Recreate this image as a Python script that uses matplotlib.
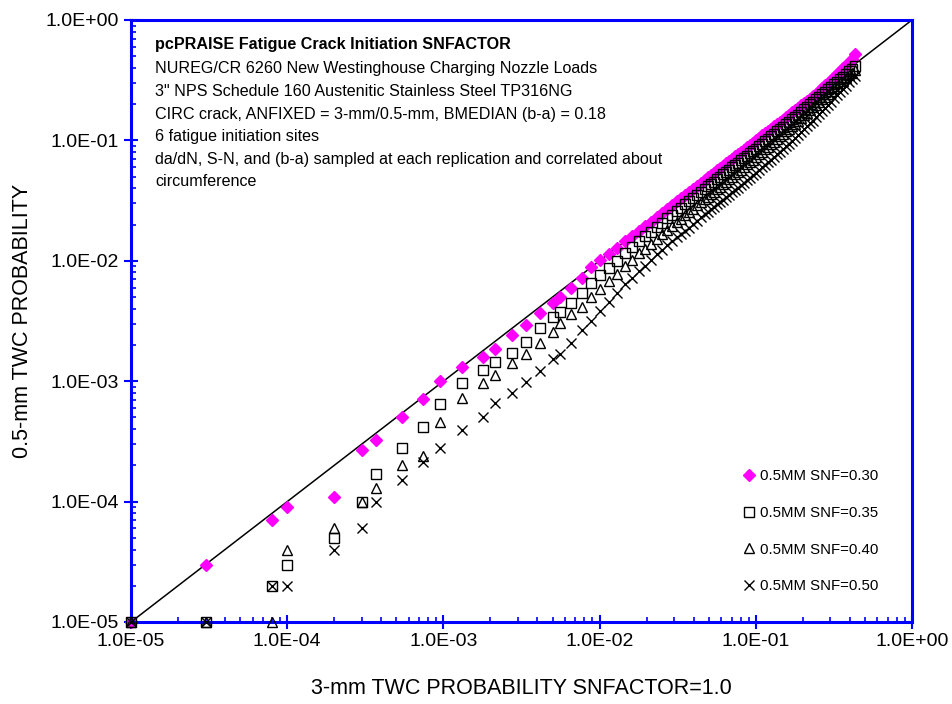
import matplotlib.pyplot as plt
from matplotlib.ticker import LogLocator, FuncFormatter, NullFormatter

plt.rcParams['font.family'] = ['Liberation Sans', 'DejaVu Sans']

# 3-mm TWC probability, SNFACTOR = 1.0 (common x for all runs)
prob_3mm = [1e-5, 3e-5, 8e-5, 1e-4, 2e-4, 3e-4, 3.7e-4, 5.4e-4, 7.4e-4, 9.5e-4,
            1.32e-3, 1.8e-3, 2.14e-3, 2.73e-3, 3.37e-3, 4.15e-3, 5.05e-3, 5.57e-3, 6.6e-3, 7.67e-3,
            8.87e-3, 0.0101, 0.0115, 0.0129, 0.0146, 0.0161, 0.0179, 0.0195, 0.0213, 0.0233,
            0.0251, 0.0270, 0.0291, 0.0313, 0.0332, 0.0352, 0.0373, 0.0396, 0.0421, 0.0446,
            0.0473, 0.0494, 0.0516, 0.0540, 0.0565, 0.0590, 0.0617, 0.0644, 0.0673, 0.0705,
            0.0736, 0.0769, 0.0804, 0.0839, 0.0879, 0.0918, 0.0959, 0.100, 0.105, 0.110,
            0.115, 0.120, 0.125, 0.131, 0.137, 0.143, 0.149, 0.156, 0.163, 0.171,
            0.178, 0.186, 0.195, 0.204, 0.213, 0.222, 0.232, 0.243, 0.254, 0.265,
            0.277, 0.290, 0.303, 0.317, 0.331, 0.346, 0.361, 0.378, 0.395, 0.413,
            0.432]

# 0.5-mm TWC probability for each SNFACTOR
snf_030 = [1e-5, 3e-5, 7e-5, 9e-5, 1.1e-4, 2.7e-4, 3.25e-4, 5.0e-4, 7.1e-4, 1.0e-3,
           1.30e-3, 1.6e-3, 1.86e-3, 2.42e-3, 2.91e-3, 3.66e-3, 4.5e-3, 5.0e-3, 6.0e-3, 7.2e-3,
           8.9e-3, 0.0101, 0.0114, 0.0128, 0.0145, 0.0160, 0.0178, 0.0194, 0.0212, 0.0232,
           0.0250, 0.0269, 0.0290, 0.0312, 0.0331, 0.0351, 0.0372, 0.0395, 0.0420, 0.0445,
           0.0472, 0.0493, 0.0515, 0.0539, 0.0564, 0.0589, 0.0616, 0.0643, 0.0672, 0.0704,
           0.0735, 0.0768, 0.0803, 0.0838, 0.0878, 0.0917, 0.0958, 0.0999, 0.105, 0.110,
           0.115, 0.120, 0.125, 0.131, 0.137, 0.143, 0.149, 0.156, 0.163, 0.171,
           0.178, 0.186, 0.195, 0.204, 0.213, 0.222, 0.232, 0.243, 0.257, 0.271,
           0.286, 0.302, 0.317, 0.336, 0.355, 0.375, 0.396, 0.419, 0.443, 0.474,
           0.521]
snf_035 = [1e-5, 1e-5, 2e-5, 3e-5, 5e-5, 1e-4, 1.7e-4, 2.8e-4, 4.2e-4, 6.5e-4,
           9.7e-4, 1.24e-3, 1.45e-3, 1.73e-3, 2.13e-3, 2.78e-3, 3.43e-3, 3.78e-3, 4.49e-3, 5.43e-3,
           6.5e-3, 7.58e-3, 8.76e-3, 0.0100, 0.0116, 0.0129, 0.0146, 0.0160, 0.0175, 0.0192,
           0.0208, 0.0225, 0.0242, 0.0260, 0.0277, 0.0294, 0.0312, 0.0332, 0.0353, 0.0374,
           0.0397, 0.0415, 0.0434, 0.0454, 0.0476, 0.0497, 0.0521, 0.0544, 0.0569, 0.0597,
           0.0623, 0.0651, 0.0683, 0.0712, 0.0746, 0.0781, 0.0816, 0.0851, 0.0896, 0.0941,
           0.0986, 0.103, 0.108, 0.113, 0.119, 0.124, 0.129, 0.136, 0.142, 0.150,
           0.156, 0.164, 0.173, 0.182, 0.190, 0.199, 0.209, 0.219, 0.230, 0.241,
           0.253, 0.266, 0.280, 0.294, 0.308, 0.323, 0.339, 0.356, 0.374, 0.393,
           0.413]
snf_040 = [1e-5, 1e-5, 1e-5, 4e-5, 6e-5, 1e-4, 1.3e-4, 2.0e-4, 2.4e-4, 4.6e-4,
           7.2e-4, 9.6e-4, 1.13e-3, 1.42e-3, 1.68e-3, 2.07e-3, 2.58e-3, 3.03e-3, 3.6e-3, 4.1e-3,
           4.98e-3, 5.88e-3, 6.81e-3, 7.78e-3, 9.01e-3, 0.0102, 0.0116, 0.0126, 0.0139, 0.0153,
           0.0166, 0.0179, 0.0194, 0.0211, 0.0224, 0.0239, 0.0254, 0.0271, 0.0288, 0.0307,
           0.0326, 0.0342, 0.0358, 0.0375, 0.0394, 0.0412, 0.0432, 0.0451, 0.0474, 0.0498,
           0.0521, 0.0547, 0.0573, 0.0601, 0.0631, 0.0662, 0.0693, 0.0724, 0.0764, 0.0804,
           0.0844, 0.0886, 0.0926, 0.0976, 0.102, 0.108, 0.113, 0.119, 0.125, 0.132,
           0.138, 0.146, 0.154, 0.162, 0.170, 0.178, 0.188, 0.198, 0.208, 0.219,
           0.231, 0.244, 0.258, 0.271, 0.284, 0.299, 0.314, 0.331, 0.348, 0.366,
           0.385]
snf_050 = [1e-5, 1e-5, 2e-5, 2e-5, 4e-5, 6e-5, 1e-4, 1.5e-4, 2.14e-4, 2.77e-4,
           3.9e-4, 5.0e-4, 6.6e-4, 8.0e-4, 9.9e-4, 1.22e-3, 1.52e-3, 1.68e-3, 2.09e-3, 2.65e-3,
           3.17e-3, 3.84e-3, 4.58e-3, 5.38e-3, 6.38e-3, 7.20e-3, 8.18e-3, 9.13e-3, 0.0102, 0.0113,
           0.0123, 0.0134, 0.0146, 0.0157, 0.0167, 0.0178, 0.0189, 0.0202, 0.0216, 0.0229,
           0.0244, 0.0256, 0.0268, 0.0280, 0.0294, 0.0307, 0.0321, 0.0336, 0.0353, 0.0370,
           0.0387, 0.0405, 0.0426, 0.0446, 0.0468, 0.0491, 0.0514, 0.0537, 0.0567, 0.0597,
           0.0628, 0.0660, 0.0690, 0.0728, 0.0767, 0.0807, 0.0843, 0.0891, 0.0937, 0.0994,
           0.104, 0.110, 0.117, 0.124, 0.131, 0.139, 0.146, 0.155, 0.165, 0.174,
           0.185, 0.197, 0.210, 0.223, 0.237, 0.251, 0.267, 0.284, 0.303, 0.323,
           0.343]

labels = ['0.5MM SNF=0.30', '0.5MM SNF=0.35', '0.5MM SNF=0.40', '0.5MM SNF=0.50']

notes = ['NUREG/CR 6260 New Westinghouse Charging Nozzle Loads',
         '3" NPS Schedule 160 Austenitic Stainless Steel TP316NG',
         'CIRC crack, ANFIXED = 3-mm/0.5-mm, BMEDIAN (b-a) = 0.18',
         '6 fatigue initiation sites',
         'da/dN, S-N, and (b-a) sampled at each replication and correlated about',
         'circumference']

W, H = 952, 704
fig = plt.figure(figsize=(W / 100, H / 100), dpi=100)
ax = fig.add_axes([131 / W, 1 - 622 / H, (912 - 131) / W, (622 - 20) / H])

ax.plot([1e-5, 1], [1e-5, 1], color='black', lw=1.1, zorder=1)

ax.plot(prob_3mm, snf_030, ls='none', marker='D', ms=6.2, color='#ff00ff',
        mec='#ff00ff', label=labels[0], clip_on=False, zorder=2)
ax.plot(prob_3mm, snf_035, ls='none', marker='s', ms=7, mfc='none', mec='black',
        mew=1.0, label=labels[1], clip_on=False, zorder=3)
ax.plot(prob_3mm, snf_040, ls='none', marker='^', ms=7.5, mfc='none', mec='black',
        mew=1.0, label=labels[2], clip_on=False, zorder=4)
ax.plot(prob_3mm, snf_050, ls='none', marker='x', ms=7, color='black',
        mew=1.0, label=labels[3], clip_on=False, zorder=5)

ax.set_xscale('log')
ax.set_yscale('log')
ax.set_xlim(1e-5, 1)
ax.set_ylim(1e-5, 1)

sci = FuncFormatter(lambda v, pos: '{:.1E}'.format(v))
for axis in (ax.xaxis, ax.yaxis):
    axis.set_major_locator(LogLocator(base=10, numticks=10))
    axis.set_minor_locator(LogLocator(base=10, subs=range(2, 10), numticks=10))
    axis.set_major_formatter(sci)
    axis.set_minor_formatter(NullFormatter())

blue = '#0000ff'
for s in ax.spines.values():
    s.set_color(blue)
    s.set_linewidth(2.2)
ax.tick_params(which='major', direction='inout', length=10, width=1.5, color=blue,
               labelsize=14, labelcolor='black')
ax.tick_params(axis='x', which='major', pad=3)
ax.tick_params(axis='y', which='major', pad=4)
ax.tick_params(which='minor', direction='in', length=3.6, width=1.2, color=blue)
ax.tick_params(top=False, right=False, which='both')

ax.set_xlabel('3-mm TWC PROBABILITY SNFACTOR=1.0', fontsize=15.5, labelpad=20)
ax.set_ylabel('0.5-mm TWC PROBABILITY', fontsize=15.5, labelpad=9)

fig.text(155 / W, 1 - 45 / H, 'pcPRAISE Fatigue Crack Initiation SNFACTOR',
         fontsize=11.6, fontweight='bold', va='center')
for i, line in enumerate(notes):
    fig.text(155 / W, 1 - (69 + 22.6 * i) / H, line, fontsize=11.6, va='center')

ax.legend(loc='upper left', bbox_to_anchor=(734 / W, 1 - 462 / H),
          bbox_transform=fig.transFigure, frameon=False, fontsize=10.8,
          handlelength=1.0, handletextpad=0.2, labelspacing=1.5, borderpad=0)

fig.savefig('out.png', dpi=100)
